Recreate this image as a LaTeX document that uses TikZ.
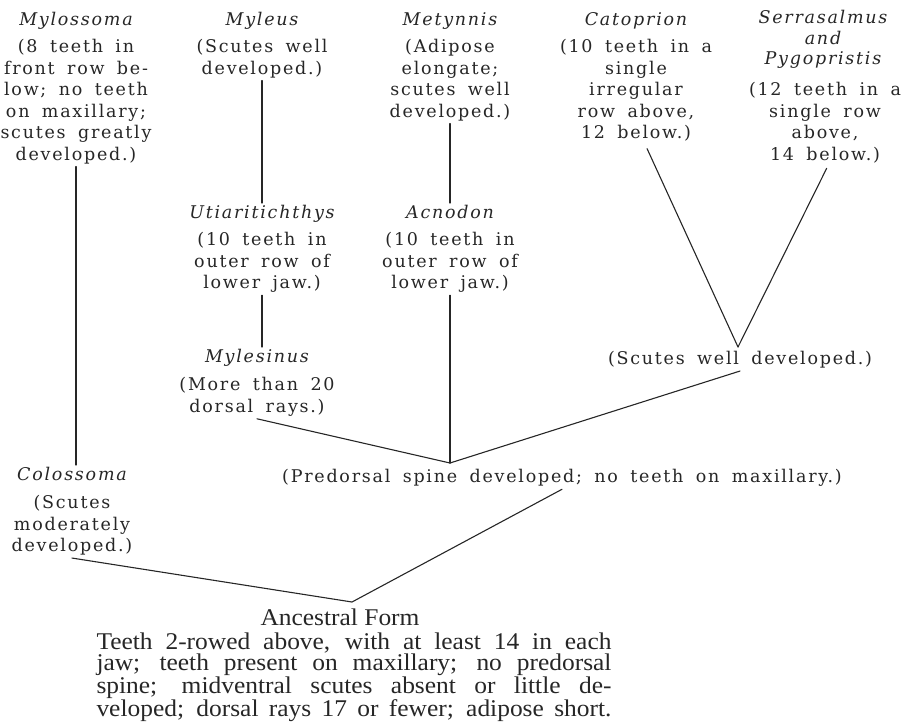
\documentclass[tikz,border=0pt]{standalone}
\usepackage{fontspec}
\usepackage{tikz}
\newfontfamily\descfont{DejaVu Serif}[LetterSpace=10.0,WordSpace=1.7]
\newfontfamily\namefont{DejaVu Serif}[LetterSpace=10.0,WordSpace=1.7]
\newfontfamily\ancfont{Liberation Serif}[FakeStretch=1.06]
\definecolor{ink}{HTML}{262626}

\begin{document}
\begin{tikzpicture}[x=1pt,y=-1pt,line width=1.1pt,line cap=round,draw=ink]
	\tikzstyle{genus}=[inner sep=2pt,anchor=north,align=center,text=ink,font=\namefont\itshape\fontsize{17.5}{20.5}\selectfont];
	\tikzstyle{note}=[inner sep=2pt,anchor=north,align=center,text=ink,font=\descfont\fontsize{17.5}{21.5}\selectfont];
	\tikzstyle{ancestor}=[inner sep=2pt,anchor=north,text=ink,font=\ancfont\fontsize{24}{21.7}\selectfont];
	\useasboundingbox (0,0) rectangle (907,723);
	%% top row
	\node[genus] (mylossoma) at (76,10) {Mylossoma};
	\node[note]  (mylossomaD) at (76,37) {(8 teeth in\\front row be-\\low; no teeth\\on maxillary;\\scutes greatly\\developed.)};
	\node[genus] (myleus) at (262,10) {Myleus};
	\node[note]  (myleusD) at (262,37) {(Scutes well\\developed.)};
	\node[genus] (metynnis) at (450,10) {Metynnis};
	\node[note]  (metynnisD) at (450,37) {(Adipose\\elongate;\\scutes well\\developed.)};
	\node[genus] (catoprion) at (636,10) {Catoprion};
	\node[note]  (catoprionD) at (636,37) {(10 teeth in a\\single\\irregular\\row above,\\12 below.)};
	\node[genus] (serra) at (823,8) {Serrasalmus\\and\\Pygopristis};
	\node[note]  (serraD) at (825,80) {(12 teeth in a\\single row\\above,\\14 below.)};
	%% middle row
	\node[genus] (utia) at (262,203) {Utiaritichthys};
	\node[note]  (utiaD) at (262,230) {(10 teeth in\\outer row of\\lower jaw.)};
	\node[genus] (acnodon) at (450,203) {Acnodon};
	\node[note]  (acnodonD) at (450,230) {(10 teeth in\\outer row of\\lower jaw.)};
	\node[genus] (mylesinus) at (257,347) {Mylesinus};
	\node[note]  (mylesinusD) at (257,375) {(More than 20\\dorsal rays.)};
	\node[note]  (scutes) at (740,349) {(Scutes well developed.)};
	\node[note]  (predorsal) at (562,467) {(Predorsal spine developed; no teeth on maxillary.)};
	\node[genus] (colossoma) at (72,465) {Colossoma};
	\node[note]  (colossomaD) at (72,493) {(Scutes\\moderately\\developed.)};
	%% ancestor
	\node[ancestor] (ancestral) at (340,606) {Ancestral Form};
	\node[ancestor,text width=515pt,align=justify] (ancestralD) at (354,630) {%
		\makebox[\linewidth][s]{Teeth 2-rowed above, with at least 14 in each}\\
		\makebox[\linewidth][s]{jaw; teeth present on maxillary; no predorsal}\\
		\makebox[\linewidth][s]{spine; midventral scutes absent or little de-}\\
		\makebox[\linewidth][s]{veloped; dorsal rays 17 or fewer; adipose short.}};
	%% junctions
	\coordinate (jscu) at (738,347);
	\coordinate (jpre) at (450,463);
	\coordinate (janc) at (352,602);
	%% branches
	\draw (mylossomaD.south) -- (mylossomaD.south |- colossoma.north);
	\draw (myleusD.south) -- (utia.north);
	\draw (metynnisD.south) -- (acnodon.north);
	\draw (utiaD.south) -- (utiaD.south |- mylesinus.north);
	\draw[shorten <=5pt] ([xshift=9pt]catoprionD.south) -- (jscu);
	\draw[shorten <=3pt] ([xshift=3pt]serraD.south) -- (jscu);
	\draw (acnodonD.south) -- (jpre);
	\draw (mylesinusD.south) -- (jpre);
	\draw (scutes.south) -- (jpre);
	\draw (predorsal.south) -- (janc);
	\draw (colossomaD.south) -- (janc);
\end{tikzpicture}
\end{document}
